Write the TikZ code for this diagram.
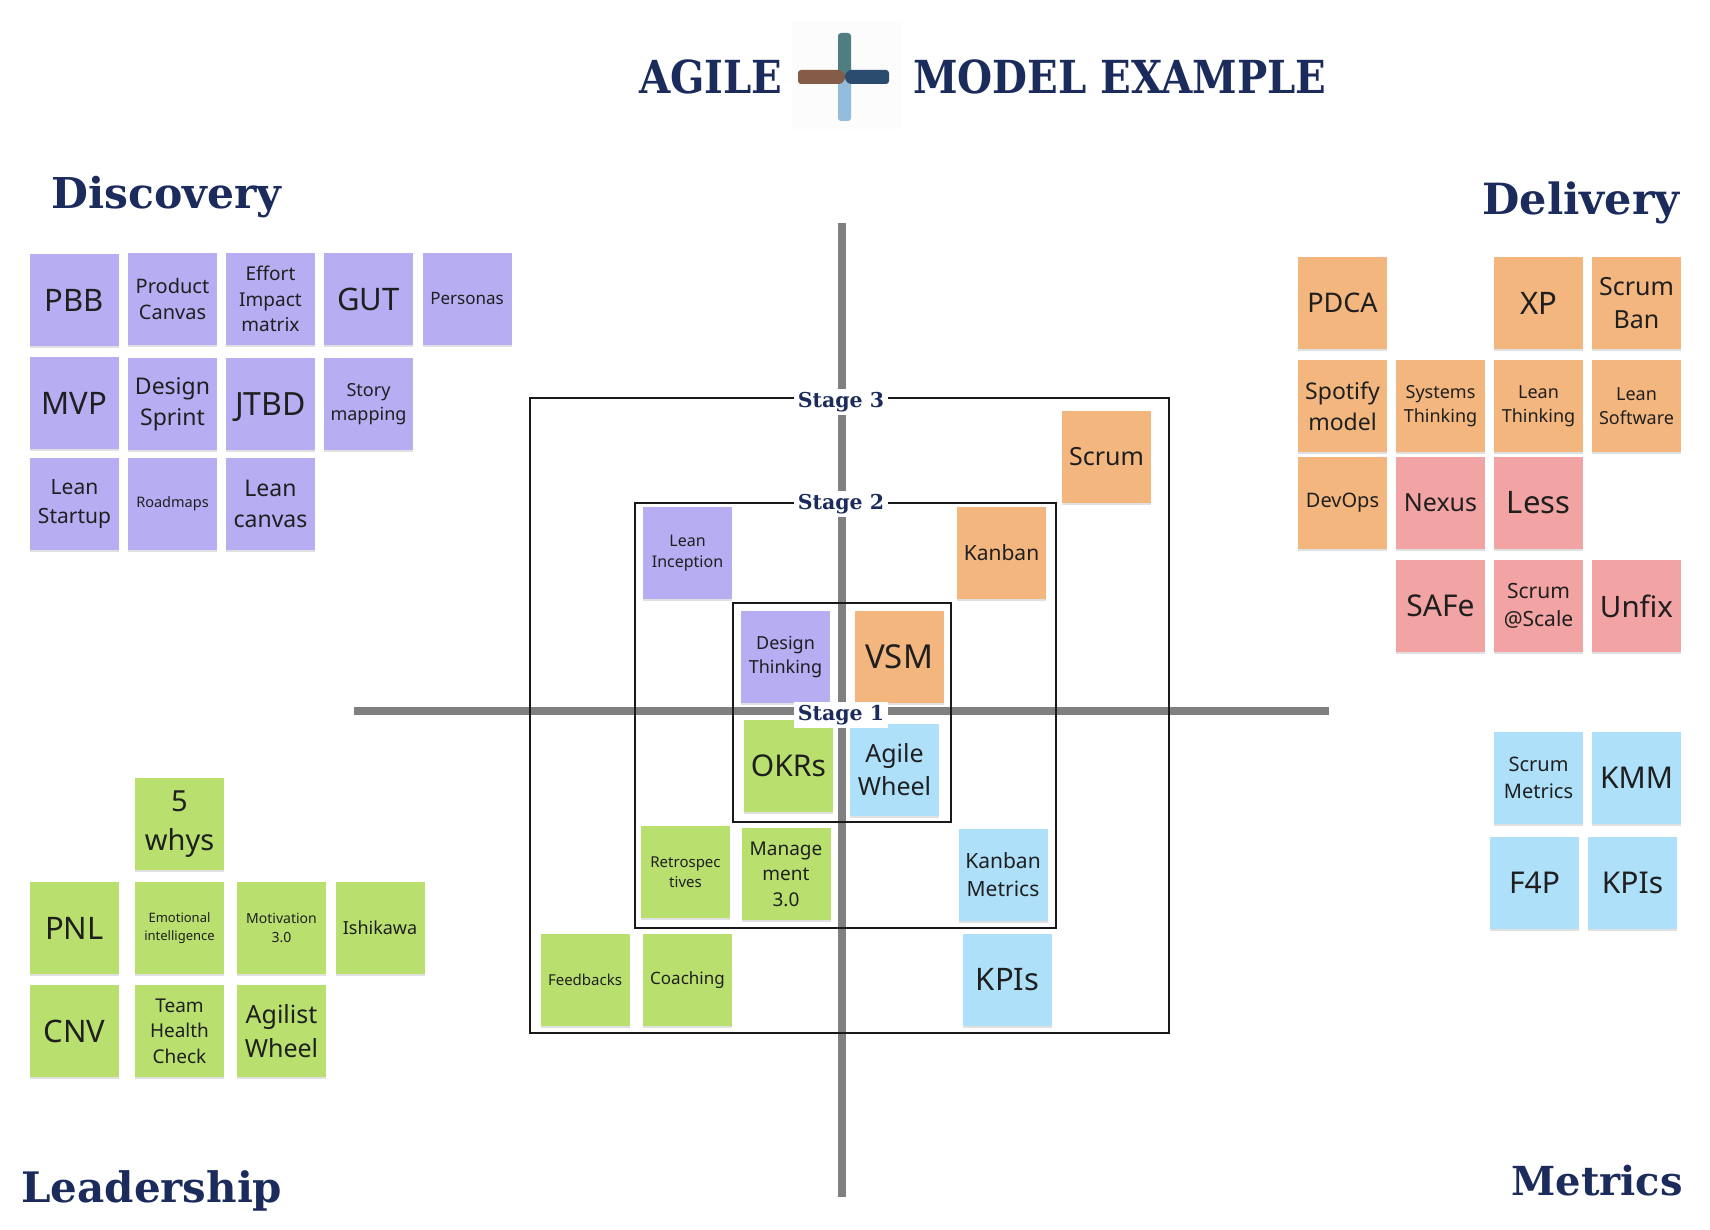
\documentclass[tikz,border=0pt]{standalone}
\usepackage{fontspec}
\setmainfont{Noto Sans}
\newfontfamily\headfont{DejaVu Serif}
\newfontfamily\titlefont[FakeStretch=0.885]{DejaVu Serif}
\usetikzlibrary{shadows}
\definecolor{navy}{HTML}{1B2C5C}
\definecolor{discovery}{HTML}{B6ADF2}
\definecolor{delivery}{HTML}{F2B67E}
\definecolor{scaling}{HTML}{F2A3A3}
\definecolor{leadership}{HTML}{B9E06E}
\definecolor{metrics}{HTML}{AEE0FA}
\definecolor{armteal}{HTML}{4F7D80}
\definecolor{armbrown}{HTML}{845C47}
\definecolor{armnavy}{HTML}{2B4C6F}
\definecolor{armsky}{HTML}{93BCDD}
\begin{document}
\begin{tikzpicture}[x=1pt,y=-1pt]
        \tikzstyle{every node}=[inner sep=0pt]
        \tikzstyle{fs}=[font=\fontsize{#1}{\fpeval{1.34*#1}}\selectfont]
        \tikzstyle{sticky}=[minimum width=89pt, minimum height=92pt, align=center, text=black!88, drop shadow={shadow xshift=0pt, shadow yshift=-2pt, opacity=.12, fill=black}]
        \tikzstyle{disc}=[sticky, fill=discovery]
        \tikzstyle{deli}=[sticky, fill=delivery]
        \tikzstyle{scal}=[sticky, fill=scaling]
        \tikzstyle{lead}=[sticky, fill=leadership]
        \tikzstyle{metr}=[sticky, fill=metrics]
        \tikzstyle{heading}=[text=navy, font=\headfont\bfseries\fontsize{#1}{50}\selectfont]
        \tikzstyle{maintitle}=[text=navy, font=\titlefont\bfseries\fontsize{45.5}{54}\selectfont]
        \tikzstyle{stagebox}=[draw=black!90, line width=1.5pt, fill=none]
        \tikzstyle{stagelabel}=[fill=white, text=navy, inner xsep=4pt, inner ysep=3pt, font=\headfont\bfseries\fontsize{20.5}{25}\selectfont]
        \tikzstyle{axis}=[draw=black!50, line width=7.5pt]
        \tikzstyle{arm}=[rounded corners=3pt]
        \useasboundingbox (0,0) rectangle (1710,1230);
        % title
        \node[maintitle, anchor=base west] (agile) at (639,94) {AGILE};
        \node[maintitle, anchor=base west] (example) at (913,94) {MODEL EXAMPLE};
        \node[minimum width=109pt, minimum height=107pt, fill=black!1] (logo) at (846,76) {};
        \fill[arm, armsky] (838,72) -- (851,72) -- (851,121) -- (838,121) -- cycle;
        \fill[arm, armteal] (838,33) -- (851,33) -- (851,77) -- (838,77) -- cycle;
        \fill[arm, armbrown] (798,70) -- (842,70) -- (846,77) -- (842,84) -- (798,84) -- cycle;
        \fill[arm, armnavy] (889,70) -- (848,70) -- (844,77) -- (848,84) -- (889,84) -- cycle;
        % headings
        \node[heading=42.5, anchor=base west] (discovery) at (51,209) {Discovery};
        \node[heading=43, anchor=base east] (delivery) at (1680,215) {Delivery};
        \node[heading=42, anchor=base west] (leadership) at (21,1202) {Leadership};
        \node[heading=40, anchor=base east] (metrics) at (1683,1195) {Metrics};
        % axes
        \coordinate (north) at (842,223);
        \coordinate (south) at (842,1197);
        \coordinate (west) at (354,711);
        \coordinate (east) at (1329,711);
        \draw[axis] (north) -- (south);
        \draw[axis] (west) -- (east);
        % stages
        \node[stagebox, minimum width=639pt, minimum height=635pt] (stage3) at (849.5,715.5) {};
        \node[stagebox, minimum width=421pt, minimum height=425pt] (stage2) at (845.5,715.5) {};
        \node[stagebox, minimum width=218pt, minimum height=219pt] (stage1) at (842,712.5) {};
        % discovery
        \node[disc, fs=31] (pbb) at (74.5,300) {PBB};
        \node[disc, fs=20] (product) at (172.5,299) {Product\\Canvas};
        \node[disc, fs=19] (effort) at (270.5,299) {Effort\\Impact\\matrix};
        \node[disc, fs=31] (gut) at (368.5,299) {GUT};
        \node[disc, fs=17] (personas) at (467,299) {Personas};
        \node[disc, fs=31] (mvp) at (74.5,403) {MVP};
        \node[disc, fs=23] (sprint) at (172.5,404) {Design\\Sprint};
        \node[disc, fs=32, text depth=0pt] (jtbd) at (270.5,404) {JTBD};
        \node[disc, fs=18] (story) at (368.5,404) {Story\\mapping};
        \node[disc, fs=21] (startup) at (74.5,504) {Lean\\Startup};
        \node[disc, fs=14.5] (roadmaps) at (172.5,504) {Roadmaps};
        \node[disc, fs=23] (canvas) at (270.5,504) {Lean\\canvas};
        % delivery
        \node[deli, fs=27] (pdca) at (1342.5,303) {PDCA};
        \node[deli, fs=31] (xp) at (1538.5,303) {XP};
        \node[deli, fs=25] (scrumban) at (1636.5,303) {Scrum\\Ban};
        \node[deli, fs=23] (spotify) at (1342.5,406) {Spotify\\model};
        \node[deli, fs=18] (systems) at (1440.5,406) {Systems\\Thinking};
        \node[deli, fs=18] (leanth) at (1538.5,406) {Lean\\Thinking};
        \node[deli, fs=18] (leansw) at (1636.5,406) {Lean\\Software};
        \node[deli, fs=20] (devops) at (1342.5,503) {DevOps};
        \node[scal, fs=25] (nexus) at (1440.5,503) {Nexus};
        \node[scal, fs=31] (less) at (1538.5,503) {Less};
        \node[scal, fs=30] (safe) at (1440.5,606) {SAFe};
        \node[scal, fs=21] (scale) at (1538.5,606) {Scrum\\@Scale};
        \node[scal, fs=29.5] (unfix) at (1636.5,606) {Unfix};
        % metrics
        \node[metr, fs=20] (scrummet) at (1538.5,778) {Scrum\\Metrics};
        \node[metr, fs=30] (kmm) at (1636.5,778) {KMM};
        \node[metr, fs=30] (ffp) at (1534.5,882.5) {F4P};
        \node[metr, fs=30] (kpisb) at (1632.5,882.5) {KPIs};
        % leadership
        \node[lead, fs=29] (whys) at (179.5,824) {5\\whys};
        \node[lead, fs=31] (pnl) at (74.5,928) {PNL};
        \node[lead, fs=13] (emotional) at (179.5,928) {Emotional\\intelligence};
        \node[lead, fs=14] (motivation) at (281.5,928) {Motivation\\3.0};
        \node[lead, fs=18] (ishikawa) at (380,928) {Ishikawa};
        \node[lead, fs=31] (cnv) at (74.5,1031) {CNV};
        \node[lead, fs=19] (health) at (179.5,1031) {Team\\Health\\Check};
        \node[lead, fs=25] (agilist) at (281.5,1031) {Agilist\\Wheel};
        % center
        \node[deli, fs=25] (scrum) at (1106.5,456.5) {Scrum};
        \node[disc, fs=16] (inception) at (687.5,553) {Lean\\Inception};
        \node[deli, fs=21] (kanban) at (1001.5,553) {Kanban};
        \node[disc, fs=18] (thinking) at (785.5,657) {Design\\Thinking};
        \node[deli, fs=33] (vsm) at (899,657) {VSM};
        \node[lead, fs=30] (okrs) at (788.5,766) {OKRs};
        \node[metr, fs=25] (wheel) at (894.5,769.5) {Agile\\Wheel};
        \node[lead, fs=15] (retro) at (685.5,872) {Retrospec\\tives};
        \node[lead, fs=19] (management) at (786,874) {Manage\\ment\\3.0};
        \node[metr, fs=21] (kanbanmet) at (1003,875) {Kanban\\Metrics};
        \node[lead, fs=15] (feedbacks) at (585,980) {Feedbacks};
        \node[lead, fs=17] (coaching) at (687.5,980) {Coaching};
        \node[metr, fs=31] (kpis) at (1007.5,980) {KPIs};
        % stage labels
        \node[stagelabel] (label3) at (841,402) {Stage 3};
        \node[stagelabel] (label2) at (841,504) {Stage 2};
        \node[stagelabel] (label1) at (841,715) {Stage 1};
    \end{tikzpicture}
\end{document}
